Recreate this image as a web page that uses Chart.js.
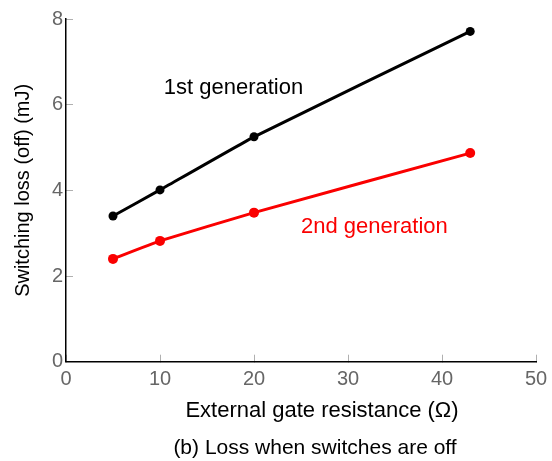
<!DOCTYPE html>
<html>
<head>
<meta charset="utf-8">
<script src="https://cdn.jsdelivr.net/npm/chart.js@4/dist/chart.umd.min.js"></script>
<style>
  html, body { margin: 0; padding: 0; background: #fff; }
  #wrap { width: 552px; height: 461px; }
</style>
</head>
<body>
<div id="wrap"><canvas id="lossChart" width="552" height="461"></canvas></div>
<script>
// Data
const resistance = [5, 10, 20, 43];            // external gate resistance (ohm)
const lossGen1 = [3.40, 4.01, 5.25, 7.71];     // 1st generation, mJ
const lossGen2 = [2.40, 2.82, 3.48, 4.87];     // 2nd generation, mJ
const xTicks = [0, 10, 20, 30, 40, 50];
const yTicks = [0, 2, 4, 6, 8];

const FONT = "'Liberation Sans', Arial, Helvetica, sans-serif";
const RED = 'rgb(250, 0, 0)';

// annotation texts, anchored in data units
const notes = [
    { text: '1st generation', x: 10.4, y: 6.24, color: '#000' },
    { text: '2nd generation', x: 25.0, y: 3.0, color: RED }
];

const textPlugin = {
    id: 'figureText',
    afterDraw(chart) {
        const { ctx, scales: { x, y } } = chart;
        ctx.save();
        ctx.textBaseline = 'alphabetic';
        ctx.font = '22px ' + FONT;
        ctx.textAlign = 'left';
        notes.forEach(n => {
            ctx.fillStyle = n.color;
            ctx.fillText(n.text, x.getPixelForValue(n.x), y.getPixelForValue(n.y));
        });
        // x axis title and caption (sit a little right of centre in the original)
        const mid = (x.left + x.right) / 2;
        ctx.textAlign = 'center';
        ctx.fillStyle = '#000';
        ctx.font = '22px ' + FONT;
        ctx.fillText('External gate resistance (\u03A9)', mid + 21, 417);
        ctx.font = '21px ' + FONT;
        ctx.fillText('(b) Loss when switches are off', mid + 14, 454);
        ctx.restore();
    }
};

// fixed axis boxes so the plot area lands where the original has it
function fixBox(size) {
    return s => {
        if (s.isHorizontal()) s.height = size; else s.width = size;
        s.paddingLeft = s.paddingRight = s.paddingTop = s.paddingBottom = 0;
    };
}

function initChart() {
    const ctx = document.getElementById('lossChart');

    new Chart(ctx, {
        type: 'line',
        data: {
            labels: resistance,
            datasets: [{
                label: '1st generation',
                data: resistance.map((r, i) => ({ x: r, y: lossGen1[i] })),
                borderColor: '#000',
                backgroundColor: '#000',
                borderWidth: 3,
                pointRadius: 4.5,
                pointBorderWidth: 0,
                tension: 0.1
            }, {
                label: '2nd generation',
                data: resistance.map((r, i) => ({ x: r, y: lossGen2[i] })),
                borderColor: RED,
                backgroundColor: RED,
                borderWidth: 3,
                pointRadius: 5,
                pointBorderWidth: 0,
                tension: 0.1
            }]
        },
        options: {
            responsive: false,
            animation: false,
            layout: { padding: { top: 19, right: 16, left: 0, bottom: 0 } },
            plugins: {
                legend: { display: false },
                tooltip: { enabled: false }
            },
            scales: {
                x: {
                    type: 'linear',
                    min: xTicks[0],
                    max: xTicks[xTicks.length - 1],
                    afterBuildTicks: s => { s.ticks = xTicks.map(v => ({ value: v })); },
                    afterFit: fixBox(99.3),
                    grid: { drawOnChartArea: false, tickLength: -7, tickColor: '#b0b0b0' },
                    border: { color: '#000', width: 1.5 },
                    ticks: { color: '#666', font: { size: 20, family: FONT }, padding: 13 }
                },
                y: {
                    type: 'linear',
                    min: yTicks[0],
                    max: yTicks[yTicks.length - 1],
                    afterBuildTicks: s => { s.ticks = yTicks.map(v => ({ value: v })); },
                    afterFit: fixBox(66),
                    grid: { drawOnChartArea: false, tickLength: -7, tickColor: '#b0b0b0' },
                    border: { color: '#000', width: 1.5 },
                    ticks: { color: '#666', font: { size: 20, family: FONT }, padding: 10 },
                    title: {
                        display: true,
                        text: 'Switching loss (off) (mJ)',
                        color: '#000',
                        font: { size: 20, family: FONT },
                        padding: { top: 11, bottom: 0 }
                    }
                }
            }
        },
        plugins: [textPlugin]
    });
}

document.addEventListener('DOMContentLoaded', initChart);
</script>
</body>
</html>
